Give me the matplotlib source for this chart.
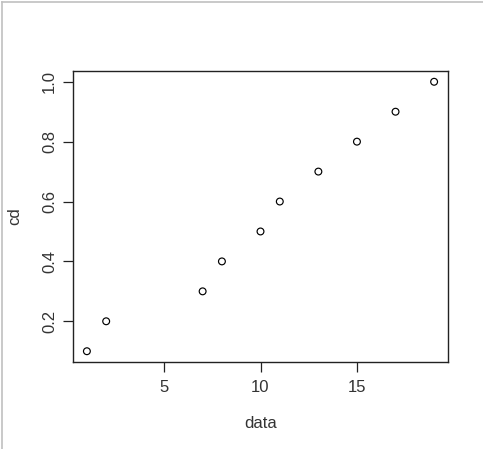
import matplotlib.pyplot as plt
from matplotlib.lines import Line2D

data = [1, 2, 7, 8, 10, 11, 13, 15, 17, 19]
cd = [0.1, 0.2, 0.3, 0.4, 0.5, 0.6, 0.7, 0.8, 0.9, 1.0]
xticks = [5, 10, 15]
yticks = [0.2, 0.4, 0.6, 0.8, 1.0]

plt.rcParams['font.family'] = ['Liberation Sans', 'DejaVu Sans']

fig = plt.figure(figsize=(4.83, 4.49), dpi=100)
ax = fig.add_axes([73 / 483, 87 / 449, 375 / 483, 291 / 449])

ax.scatter(data, cd, s=24, facecolors='none', edgecolors='black', linewidths=0.85)

# R style 4% axis extension
xr = max(data) - min(data)
yr = max(cd) - min(cd)
ax.set_xlim(min(data) - 0.04 * xr, max(data) + 0.04 * xr)
ax.set_ylim(min(cd) - 0.04 * yr, max(cd) + 0.04 * yr)

ax.set_xticks(xticks)
ax.set_xticklabels([str(t) for t in xticks])
ax.set_yticks(yticks)
ax.set_yticklabels(['%.1f' % t for t in yticks], rotation=90, va='center')
ax.tick_params(length=7, width=0.9, labelsize=12, colors='#222222', labelcolor='#333333')
ax.tick_params(axis='x', pad=6)
ax.tick_params(axis='y', pad=4.5)

for s in ax.spines.values():
    s.set_linewidth(1.0)
    s.set_color('#222222')

ax.set_xlabel('data', fontsize=12, color='#333333', va='center')
ax.set_ylabel('cd', fontsize=12, color='#333333', va='center')
ax.xaxis.set_label_coords(0.5, (362 - 424) / 291)
ax.yaxis.set_label_coords((15 - 73) / 375, 0.5)

# thin grey frame on left and top edges
fig.add_artist(Line2D([1.5 / 483, 1.5 / 483], [0, 1 - 1.5 / 449], color='#c0c0c0', lw=1.2))
fig.add_artist(Line2D([1.5 / 483, 1], [1 - 1.5 / 449, 1 - 1.5 / 449], color='#c0c0c0', lw=1.2))

fig.savefig('out.png', dpi=100)
